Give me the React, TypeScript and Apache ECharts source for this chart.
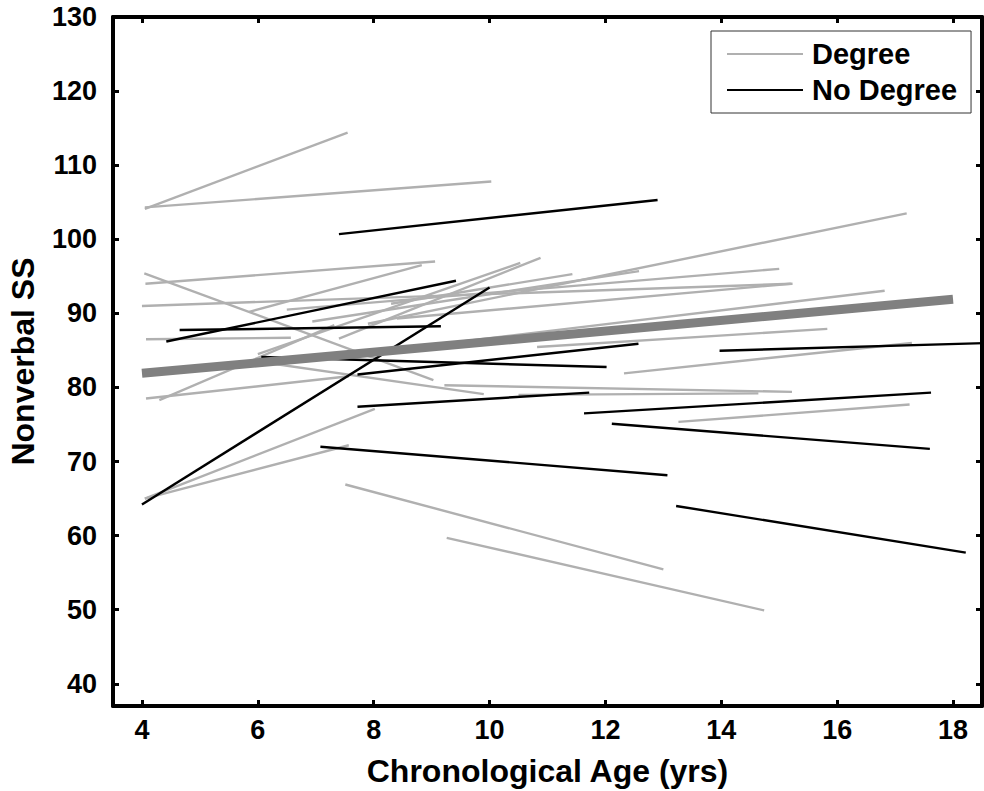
import React, { useEffect, useRef } from "react";
import * as echarts from "echarts";

// Tick values
const xTicks = [4, 6, 8, 10, 12, 14, 16, 18];
const yTicks = [40, 50, 60, 70, 80, 90, 100, 110, 120, 130];

// Individual trajectories [ageStart, scoreStart, ageEnd, scoreEnd]
const degreeLines: number[][] = [
  [4.05, 104.1, 7.55, 114.4],
  [4.05, 104.3, 10.03, 107.8],
  [4.06, 94.0, 9.06, 97.0],
  [4.04, 95.4, 9.03, 81.0],
  [4.0, 91.0, 15.23, 94.0],
  [4.07, 86.5, 6.57, 86.7],
  [4.07, 78.5, 7.57, 81.5],
  [4.3, 78.3, 7.32, 88.4],
  [5.85, 90.2, 8.83, 96.5],
  [7.4, 86.6, 10.88, 97.5],
  [6.0, 84.5, 10.53, 96.8],
  [5.9, 83.6, 9.9, 79.1],
  [9.22, 80.3, 15.22, 79.4],
  [10.5, 79.0, 14.64, 79.2],
  [10.82, 85.45, 15.83, 87.9],
  [12.32, 81.9, 17.29, 86.0],
  [13.26, 75.35, 17.25, 77.7],
  [7.51, 66.9, 13.0, 55.45],
  [9.26, 59.7, 14.74, 49.9],
  [4.05, 65.0, 8.02, 77.1],
  [4.05, 65.0, 7.57, 72.2],
  [7.9, 88.6, 17.2, 103.5],
  [8.3, 91.3, 11.43, 95.3],
  [6.94, 88.9, 12.58, 95.7],
  [6.5, 90.5, 15.0, 96.0],
  [7.8, 84.6, 16.82, 93.05],
  [8.4, 89.3, 15.2, 94.0],
];

const noDegreeLines: number[][] = [
  [7.4, 100.7, 12.9, 105.3],
  [4.42, 86.2, 9.42, 94.4],
  [4.65, 87.75, 9.16, 88.25],
  [4.0, 64.2, 10.0, 93.5],
  [6.06, 84.1, 12.02, 82.75],
  [7.72, 81.75, 12.57, 85.9],
  [7.72, 77.4, 11.72, 79.3],
  [7.08, 72.0, 13.07, 68.15],
  [13.97, 84.95, 18.6, 86.0],
  [11.63, 76.5, 17.62, 79.3],
  [12.11, 75.1, 17.6, 71.7],
  [13.22, 64.0, 18.22, 57.7],
];

const overallTrend: number[] = [4, 81.9, 18, 91.9];

const FONT = "'Liberation Sans', Arial, Helvetica, sans-serif";

export default function App() {
  const ref = useRef<HTMLDivElement>(null);

  useEffect(() => {
    if (!ref.current) return;
    const chart = echarts.init(ref.current, null, { renderer: "svg" });

    const seg = (s: number[], name: string, color: string, width: number, z: number) => ({
      type: "line",
      name,
      data: [
        [s[0], s[1]],
        [s[2], s[3]],
      ],
      symbol: "none",
      showSymbol: false,
      silent: true,
      clip: true,
      z,
      lineStyle: { color, width, cap: "butt" },
      itemStyle: { color },
    });

    const series: any[] = [];
    degreeLines.forEach((s) => series.push(seg(s, "Degree", "#b0b0b0", 2.4, 2)));
    noDegreeLines.forEach((s) => series.push(seg(s, "No Degree", "#000000", 2.4, 3)));
    series.push(seg(overallTrend, "Overall", "#808080", 9, 4));

    const axisLine = { show: true, onZero: false, lineStyle: { color: "#000", width: 4 } };
    const tick = (vals: number[]) => ({
      show: true,
      inside: true,
      length: 6,
      customValues: vals,
      lineStyle: { color: "#000", width: 3 },
    });
    const labelStyle = {
      fontSize: 27,
      fontWeight: "bold",
      color: "#000",
      fontFamily: FONT,
    };

    chart.setOption({
      animation: false,
      backgroundColor: "#fff",
      grid: {
        left: 113,
        top: 17,
        right: 2,
        bottom: 85,
        containLabel: false,
        outerBoundsMode: "none",
      },
      legend: {
        data: ["Degree", "No Degree"],
        orient: "vertical",
        left: 711,
        top: 31,
        padding: [7, 14, 7, 16],
        icon: "rect",
        itemWidth: 76,
        itemHeight: 2,
        itemGap: 4,
        borderColor: "#333",
        borderWidth: 1,
        backgroundColor: "#fff",
        selectedMode: false,
        textStyle: { ...labelStyle, fontSize: 29, lineHeight: 32, padding: [0, 0, 0, 4] },
      },
      xAxis: [
        {
          type: "value",
          min: 3.5,
          max: 18.5,
          position: "bottom",
          axisLine,
          axisTick: tick(xTicks),
          axisLabel: { ...labelStyle, customValues: xTicks, margin: 10 },
          splitLine: { show: false },
          name: "Chronological Age (yrs)",
          nameLocation: "middle",
          nameGap: 49,
          nameTextStyle: { fontSize: 32, fontWeight: "bold", color: "#000", fontFamily: FONT },
        },
        {
          type: "value",
          min: 3.5,
          max: 18.5,
          position: "top",
          axisLine,
          axisTick: tick(xTicks),
          axisLabel: { show: false },
          splitLine: { show: false },
        },
      ],
      yAxis: [
        {
          type: "value",
          min: 37,
          max: 130,
          position: "left",
          axisLine,
          axisTick: tick(yTicks),
          axisLabel: { ...labelStyle, customValues: yTicks, margin: 16 },
          splitLine: { show: false },
          name: "Nonverbal SS",
          nameLocation: "middle",
          nameGap: 74,
          nameRotate: 90,
          nameTextStyle: { fontSize: 32, fontWeight: "bold", color: "#000", fontFamily: FONT },
        },
        {
          type: "value",
          min: 37,
          max: 130,
          position: "right",
          axisLine,
          axisTick: tick(yTicks),
          axisLabel: { show: false },
          splitLine: { show: false },
        },
      ],
      series,
    });

    return () => chart.dispose();
  }, []);

  return (
    <div
      ref={ref}
      style={{ position: "absolute", left: 0, top: 0, width: 984, height: 791, background: "#fff" }}
    />
  );
}
